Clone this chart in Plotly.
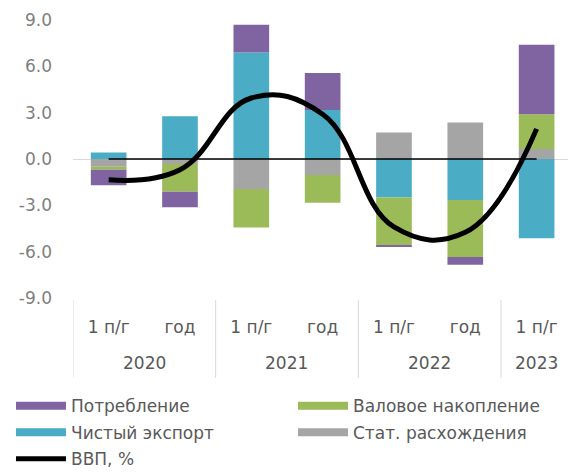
import plotly.graph_objects as go

years = ["2020", "2020", "2021", "2021", "2022", "2022", "2023"]
periods = ["1 п/г", "год", "1 п/г", "год", "1 п/г", "год", "1 п/г"]

consumption = [-1.0, -1.0, 1.8, 2.4, -0.1, -0.5, 4.5]        # Потребление
accumulation = [-0.2, -1.8, -2.5, -1.8, -3.1, -3.7, 2.25]    # Валовое накопление
net_export = [0.42, 2.76, 6.9, 3.17, -2.5, -2.65, -5.13]     # Чистый экспорт
stat_discr = [-0.5, -0.32, -1.94, -1.03, 1.72, 2.37, 0.65]   # Стат. расхождения
gdp = [-1.35, -0.7, 3.95, 2.9, -4.4, -4.75, 1.95]            # ВВП, %
zero_ref = [0, 0, 0, 0, 0, 0, 0]

y_tick_vals = [-9, -6, -3, 0, 3, 6, 9]
y_tick_text = ["-9.0", "-6.0", "-3.0", "0.0", "3.0", "6.0", "9.0"]

names = ["Потребление", "Валовое накопление", "Чистый экспорт", "Стат. расхождения"]
colors = {"Потребление": "#8064A2", "Валовое накопление": "#9BBB59",
          "Чистый экспорт": "#4BACC6", "Стат. расхождения": "#A5A5A5"}
legend_of = {"Потребление": "legend", "Чистый экспорт": "legend",
             "Валовое накопление": "legend2", "Стат. расхождения": "legend2"}

idx = list(range(len(periods)))
fig = go.Figure()

# stacking order (closest to zero first)
for nm, vals in [("Стат. расхождения", stat_discr), ("Чистый экспорт", net_export),
                 ("Валовое накопление", accumulation), ("Потребление", consumption)]:
    fig.add_trace(go.Bar(x=idx, y=vals, name=nm, marker_color=colors[nm],
                         marker_line_width=0, showlegend=False))

fig.add_trace(go.Scatter(x=idx, y=zero_ref, mode="lines", line=dict(color="black", width=1.5),
                         showlegend=False, hoverinfo="skip"))
fig.add_trace(go.Scatter(x=idx, y=gdp, mode="lines", name="ВВП, %",
                         line=dict(color="black", width=5, shape="spline", smoothing=1.2),
                         showlegend=False))

# legend entries
for nm in names:
    fig.add_trace(go.Scatter(x=[None], y=[None], mode="lines", name=nm, legendgroup=nm,
                             legend=legend_of[nm], line=dict(color=colors[nm], width=8)))
fig.add_trace(go.Scatter(x=[None], y=[None], mode="lines", name="ВВП, %", legendgroup="gdp",
                         legend="legend", line=dict(color="black", width=5)))

# year group labels and dividers, derived from the category arrays
groups = []
for i, y in enumerate(years):
    if groups and groups[-1][0] == y:
        groups[-1][2] = i
    else:
        groups.append([y, i, i])
for y, a, b in groups:
    fig.add_annotation(x=(a + b) / 2, y=-0.234, xref="x", yref="paper", text=y,
                       showarrow=False, yanchor="middle",
                       font=dict(size=17, color="#595959"))
bounds = [groups[0][1] - 0.5] + [g[2] + 0.5 for g in groups]
for bx in bounds:
    fig.add_shape(type="line", x0=bx, x1=bx, y0=-0.007, y1=-0.288, xref="x", yref="paper",
                  line=dict(color="#D9D9D9", width=1))

leg_common = dict(orientation="v", xref="paper", yref="container",
                  xanchor="left", yanchor="top", itemwidth=50,
                  font=dict(size=17, color="#595959"), traceorder="grouped",
                  tracegroupgap=1.5, bgcolor="rgba(0,0,0,0)")
fig.update_layout(
    width=568, height=475,
    margin=dict(l=73, r=0, t=20, b=177),
    paper_bgcolor="white", plot_bgcolor="white",
    barmode="relative", bargap=0.5,
    font=dict(family="DejaVu Sans", size=17, color="#595959"),
    showlegend=True,
    legend=dict(x=-0.1253, y=0.183, **leg_common),
    legend2=dict(x=0.4444, y=0.183, **leg_common),
)
fig.update_xaxes(range=[-0.5, 6.44], showgrid=False, zeroline=False,
                 showline=False, ticks="", tickvals=idx, ticktext=periods,
                 ticklabelstandoff=17,
                 tickfont=dict(size=17, color="#595959"))
fig.update_yaxes(range=[-9, 9], tickvals=y_tick_vals, ticktext=y_tick_text, showgrid=False,
                 zeroline=True, zerolinecolor="#D9D9D9", zerolinewidth=1,
                 showline=False, ticks="", ticklabelstandoff=20,
                 tickfont=dict(size=17, color="#7F7F7F"))

fig.write_html("out.html")
